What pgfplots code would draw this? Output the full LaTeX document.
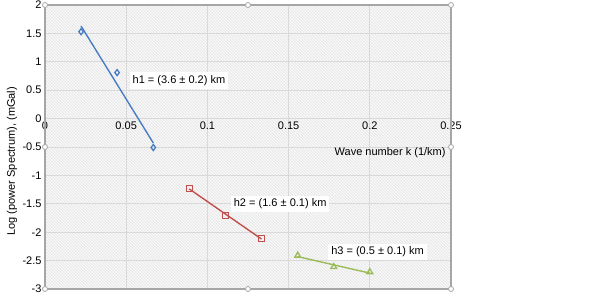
\documentclass[border=0pt]{standalone}
\usepackage{pgfplots}
\pgfplotsset{compat=1.18}
\usepackage{fontspec}
\setmainfont{Liberation Sans}
\usetikzlibrary{patterns}
\definecolor{cblue}{HTML}{4A7EC4}
\definecolor{cred}{HTML}{C0504D}
\definecolor{cgreen}{HTML}{9BBB59}
\definecolor{cgrid}{HTML}{D9D9D9}
\definecolor{cframe}{HTML}{A6A6A6}
\begin{document}
\begin{tikzpicture}[x=1pt,y=1pt]
\useasboundingbox (0,0) rectangle (602,297);
\begin{axis}[
  at={(45pt,8pt)}, anchor=south west,
  scale only axis, width=406pt, height=284pt,
  xmin=0, xmax=0.25, ymin=-3, ymax=2,
  xtick={0,0.05,...,0.25}, ytick={-3,-2.5,...,2},
  axis x line=middle, axis y line=left,
  hide obscured x ticks=false,
  axis line style={draw=cgrid,-},
  major tick length=0pt,
  grid=major, grid style={draw=cgrid, line width=0.9pt},
  axis background/.style={fill=black!8, postaction={pattern=north west lines, pattern color=white}},
  tick label style={font=\fontsize{11}{13}\selectfont},
  /pgf/number format/assume math mode=true,
  xticklabel style={/pgf/number format/fixed, /pgf/number format/precision=2},
  yticklabel style={/pgf/number format/fixed},
  clip=false,
]
\draw[cframe, line width=1.2pt] (rel axis cs:0,0) rectangle (rel axis cs:1,1);
% trend lines
\addplot[cblue, line width=1.4pt, no marks] coordinates {(0.0222,1.63) (0.0667,-0.43)};
\addplot[cred, line width=1.4pt, no marks] coordinates {(0.0889,-1.24) (0.1333,-2.12)};
\addplot[cgreen, line width=1.4pt, no marks] coordinates {(0.1556,-2.43) (0.2000,-2.72)};
% data
\addplot[only marks, mark=diamond, mark size=3pt, mark options={draw=cblue, fill=white, line width=1.3pt}] coordinates {(0.0222,1.53) (0.0444,0.81) (0.0667,-0.51)};
\addplot[only marks, mark=square, mark size=3pt, mark options={draw=cred, fill=white, line width=1.3pt}] coordinates {(0.0889,-1.23) (0.1111,-1.71) (0.1333,-2.11)};
\addplot[only marks, mark=triangle, mark size=3.3pt, mark options={draw=cgreen, fill=white, line width=1.3pt}] coordinates {(0.1556,-2.41) (0.1778,-2.61) (0.2000,-2.70)};
% labels
\node[fill=white, font=\fontsize{11}{13}\selectfont, inner sep=3pt] at (axis cs:0.0825,0.67) {h1 = (3.6 ± 0.2) km};
\node[fill=white, font=\fontsize{11}{13}\selectfont, inner sep=3pt] at (axis cs:0.1448,-1.50) {h2 = (1.6 ± 0.1) km};
\node[fill=white, font=\fontsize{11}{13}\selectfont, inner sep=3pt] at (axis cs:0.2048,-2.35) {h3 = (0.5 ± 0.1) km};
\node[font=\fontsize{11}{13}\selectfont] at (axis cs:0.2125,-0.60) {Wave number k (1/km)};
\node[font=\fontsize{11}{13}\selectfont, rotate=90] at ([xshift=-33pt]rel axis cs:0,0.45) {Log (power Spectrum), (mGal)};
% selection handles
\draw[cframe, fill=white, line width=0.8pt] (rel axis cs:0,0) circle (2.5pt);
\draw[cframe, fill=white, line width=0.8pt] (rel axis cs:0.5,0) circle (2.5pt);
\draw[cframe, fill=white, line width=0.8pt] (rel axis cs:1,0) circle (2.5pt);
\draw[cframe, fill=white, line width=0.8pt] (rel axis cs:0,0.5) circle (2.5pt);
\draw[cframe, fill=white, line width=0.8pt] (rel axis cs:1,0.5) circle (2.5pt);
\draw[cframe, fill=white, line width=0.8pt] (rel axis cs:0,1) circle (2.5pt);
\draw[cframe, fill=white, line width=0.8pt] (rel axis cs:0.5,1) circle (2.5pt);
\draw[cframe, fill=white, line width=0.8pt] (rel axis cs:1,1) circle (2.5pt);
\end{axis}
\end{tikzpicture}
\end{document}
